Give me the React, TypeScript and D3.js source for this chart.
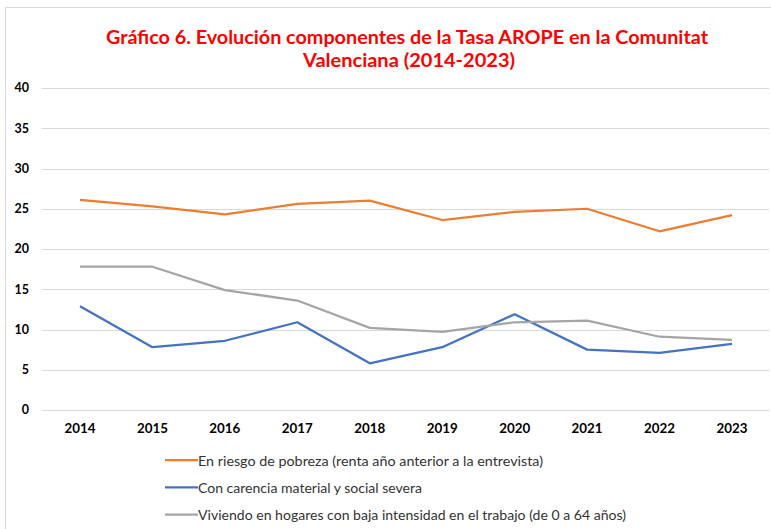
import React from "react";
import * as d3 from "d3";

const years = ["2014", "2015", "2016", "2017", "2018", "2019", "2020", "2021", "2022", "2023"];
const pobreza = [26.1, 25.3, 24.3, 25.6, 26.0, 23.6, 24.6, 25.0, 22.2, 24.2];
const carencia = [12.9, 7.8, 8.6, 10.9, 5.8, 7.8, 11.9, 7.5, 7.1, 8.2];
const baja = [17.8, 17.8, 14.9, 13.6, 10.2, 9.7, 10.9, 11.1, 9.1, 8.7];
const yTicks = [0, 5, 10, 15, 20, 25, 30, 35, 40];
const seriesNames = [
  "En riesgo de pobreza (renta año anterior a la entrevista)",
  "Con carencia material y social severa",
  "Viviendo en hogares con baja intensidad en el trabajo (de 0 a 64 años)",
];
const seriesColors = ["#ED7D31", "#4472C4", "#A5A5A5"];
const titleLines = [
  "Gráfico 6. Evolución componentes de la Tasa AROPE en la Comunitat",
  "Valenciana (2014-2023)",
];

export default function App() {
  const W = 771, H = 529;
  const x = d3.scalePoint<string>().domain(years).range([80, 732]);
  const y = d3.scaleLinear().domain([0, 40]).range([410, 88]);
  const line = d3
    .line<number>()
    .x((_, i) => x(years[i]) as number)
    .y((d) => y(d));
  const data = [pobreza, carencia, baja];
  const legendWidths = [345, 224, 428];
  const font = "Lato, 'Open Sans', sans-serif";
  return (
    <svg width={W} height={H} style={{ position: "absolute", left: 0, top: 0, background: "#fff" }}>
      <rect x={0} y={0} width={W} height={H} fill="#fff" />
      <rect x={5.5} y={7.5} width={900} height={700} fill="none" stroke="#d9d9d9" strokeWidth={1} />
      <text x={407} y={43.5} textAnchor="middle" fill="#FF0000" fontFamily={font} fontWeight="bold" fontSize={19.5}
        textLength={602} lengthAdjust="spacingAndGlyphs">{titleLines[0]}</text>
      <text x={409} y={67} textAnchor="middle" fill="#FF0000" fontFamily={font} fontWeight="bold" fontSize={19.5}
        textLength={212} lengthAdjust="spacingAndGlyphs">{titleLines[1]}</text>
      {yTicks.map((t) => (
        <g key={t}>
          <line x1={42} x2={769} y1={Math.round(y(t)) + 0.5} y2={Math.round(y(t)) + 0.5} stroke="#d9d9d9" strokeWidth={1} />
          <text x={29} y={y(t)} dy="0.35em" textAnchor="end" fontFamily={font} fontWeight="bold" fontSize={12.5} fill="#000">{t}</text>
        </g>
      ))}
      {years.map((yr) => (
        <text key={yr} x={x(yr)} y={433} textAnchor="middle" fontFamily={font} fontWeight="bold" fontSize={12.5} fill="#000"
          textLength={31} lengthAdjust="spacingAndGlyphs">{yr}</text>
      ))}
      {data.map((d, i) => (
        <path key={i} d={line(d) || ""} fill="none" stroke={seriesColors[i]} strokeWidth={2.25} strokeLinejoin="round" />
      ))}
      {seriesNames.map((n, i) => (
        <g key={n} transform={`translate(0, ${460 + i * 27.3})`}>
          <line x1={165} x2={198} y1={0} y2={0} stroke={seriesColors[i]} strokeWidth={2.25} />
          <text x={198} y={1} dy="0.35em" fontFamily={font} fontSize={13} fill="#333"
            textLength={legendWidths[i]} lengthAdjust="spacingAndGlyphs">{n}</text>
        </g>
      ))}
    </svg>
  );
}
